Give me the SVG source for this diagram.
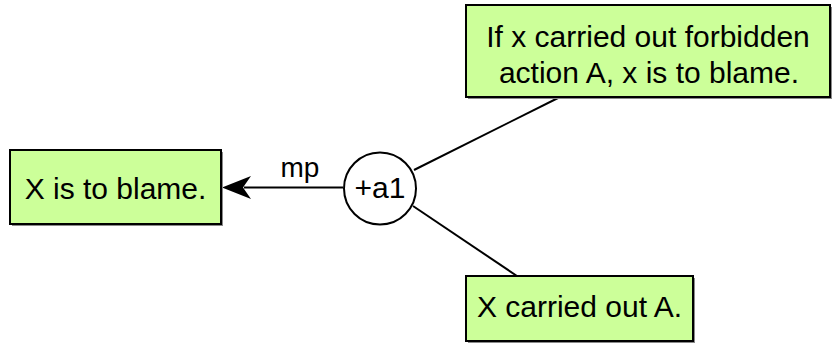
<svg xmlns="http://www.w3.org/2000/svg" width="832" height="343" viewBox="0 0 832 343">
  <style>
    .box { fill: #ccff99; stroke: #000; stroke-width: 2; }
    .shadow { fill: #8a8a8a; }
    .label { font-family: "Liberation Sans", Arial, sans-serif; font-size: 30px; fill: #000; text-anchor: middle; }
    .edge { stroke: #000; stroke-width: 2; fill: none; }
    .head { fill: #000; stroke: none; }
    .node { fill: #fff; stroke: #000; stroke-width: 2; }
  </style>
  <rect width="832" height="343" fill="#fff"/>

  <g id="connectors">
    <line class="edge" x1="343" y1="187.5" x2="244" y2="187.5"/>
    <polygon class="head" points="222,187.5 251,176 243,187.5 251,199"/>
    <line class="edge" x1="414" y1="170" x2="560" y2="97"/>
    <line class="edge" x1="413" y1="206" x2="517" y2="276"/>
    <text class="label" x="300" y="177" style="font-size:28px">mp</text>
  </g>

  <g id="conclusion">
    <rect class="shadow" x="12" y="152" width="211" height="74"/>
    <rect class="box" x="10" y="150" width="211" height="74"/>
    <text class="label" x="115.5" y="199">X is to blame.</text>
  </g>

  <g id="argument">
    <circle class="node" cx="380" cy="188.5" r="36"/>
    <text class="label" x="380" y="198">+a1</text>
  </g>

  <g id="rule">
    <rect class="shadow" x="468" y="7" width="364" height="92"/>
    <rect class="box" x="466" y="5" width="364" height="92"/>
    <text class="label" x="648" y="47">If x carried out forbidden</text>
    <text class="label" x="649" y="83">action A, x is to blame.</text>
  </g>

  <g id="fact">
    <rect class="shadow" x="468" y="278" width="227" height="65"/>
    <rect class="box" x="466" y="276" width="227" height="65"/>
    <text class="label" x="579.5" y="317">X carried out A.</text>
  </g>
</svg>
